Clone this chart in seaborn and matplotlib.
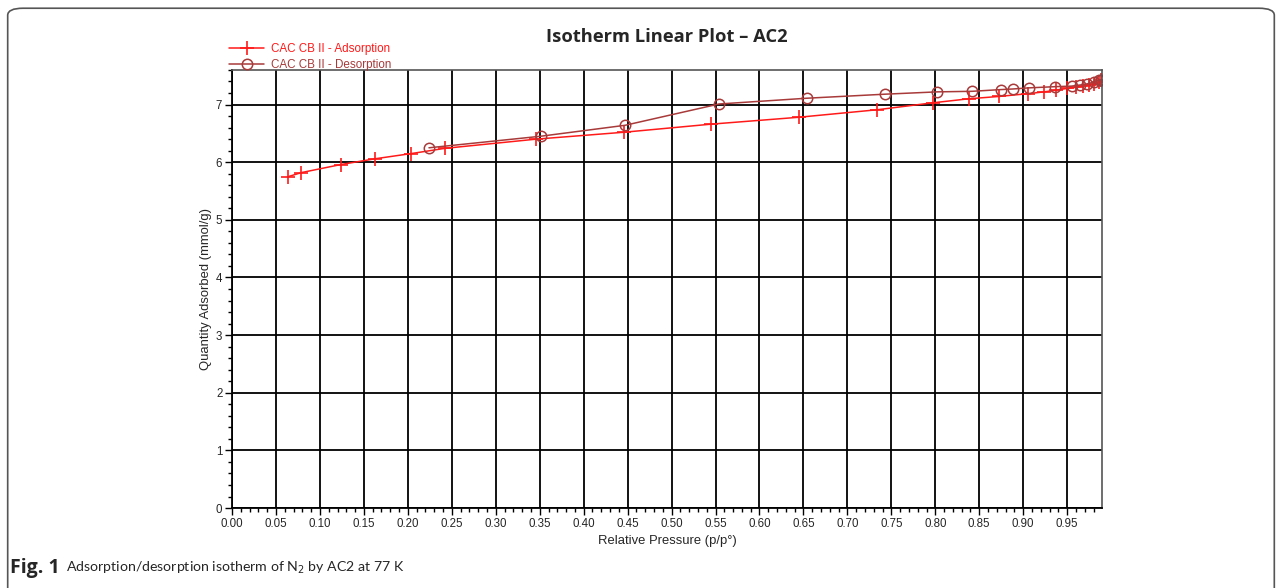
import numpy as np
import pandas as pd
import seaborn as sns
import matplotlib.pyplot as plt
from matplotlib.patches import FancyBboxPatch
from matplotlib.ticker import MultipleLocator

# adsorption branch
ads_p = [0.064, 0.079, 0.124, 0.163, 0.204, 0.242, 0.346, 0.446, 0.545, 0.645,
         0.734, 0.797, 0.838, 0.872, 0.906, 0.924, 0.937, 0.950, 0.960, 0.968,
         0.975, 0.981, 0.986, 0.989]
ads_q = [5.75, 5.82, 5.96, 6.06, 6.15, 6.24, 6.40, 6.52, 6.66, 6.78,
         6.91, 7.03, 7.10, 7.14, 7.19, 7.22, 7.25, 7.28, 7.30, 7.32,
         7.34, 7.36, 7.39, 7.42]

# desorption branch
des_p = [0.989, 0.986, 0.980, 0.973, 0.965, 0.955, 0.936, 0.907, 0.888, 0.875,
         0.842, 0.802, 0.743, 0.654, 0.554, 0.447, 0.351, 0.224]
des_q = [7.43, 7.42, 7.39, 7.36, 7.34, 7.32, 7.31, 7.29, 7.27, 7.26,
         7.23, 7.22, 7.18, 7.11, 7.01, 6.64, 6.45, 6.25]

x_ticks = np.round(np.arange(0, 0.951, 0.05), 2)
y_ticks = [0, 1, 2, 3, 4, 5, 6, 7]

ads_color = "#ff1a1a"
des_color = "#a83a3a"

sns.set_theme(style="white")
plt.rcParams["font.family"] = ["Liberation Sans", "DejaVu Sans"]

fig = plt.figure(figsize=(12.82, 5.88), dpi=100)
ax = fig.add_axes([0.181, 0.136, 0.6785, 0.745])

ads = pd.DataFrame({"p": ads_p, "q": ads_q})
des = pd.DataFrame({"p": des_p, "q": des_q})

sns.lineplot(data=ads, x="p", y="q", ax=ax, color=ads_color, lw=1.1,
             marker="+", markersize=10, markeredgewidth=1.2,
             markeredgecolor=ads_color, sort=False,
             estimator=None, label="CAC CB II - Adsorption")
sns.lineplot(data=des, x="p", y="q", ax=ax, color=des_color, lw=1.1,
             marker="o", markersize=7.5, markerfacecolor="none",
             markeredgecolor=des_color, markeredgewidth=1.1, sort=False,
             estimator=None, label="CAC CB II - Desorption")

ax.set_xlim(0, 0.9895)
ax.set_ylim(0, 7.6)
ax.set_xticks(x_ticks)
ax.set_xticklabels([f"{v:.2f}" for v in x_ticks])
ax.set_yticks(y_ticks)
ax.xaxis.set_minor_locator(MultipleLocator(0.01))
ax.yaxis.set_minor_locator(MultipleLocator(0.2))
ax.grid(True, which="major", color="black", lw=1.3)
ax.set_axisbelow(True)
ax.tick_params(which="major", direction="out", length=5, width=1,
               color="black", labelsize=8.3, pad=2, bottom=True, left=True)
ax.tick_params(which="minor", direction="out", length=3, width=1,
               color="black", bottom=True, left=True)
for side in ["left", "bottom"]:
    ax.spines[side].set_color("black")
    ax.spines[side].set_linewidth(1.3)
for side in ["top", "right"]:
    ax.spines[side].set_color("#555555")
    ax.spines[side].set_linewidth(1.2)

ax.set_xlabel("Relative Pressure (p/p°)", fontsize=9.4, labelpad=4)
ax.set_ylabel("Quantity Adsorbed (mmol/g)", fontsize=9.4, labelpad=3)

leg = ax.legend(loc="lower left", bbox_to_anchor=(-0.003, 0.998), frameon=False,
                fontsize=8.4, handlelength=3.0, handletextpad=0.6,
                labelspacing=0.35, borderpad=0, borderaxespad=0)
for txt, c in zip(leg.get_texts(), [ads_color, des_color]):
    txt.set_color(c)

fig.text(0.52, 0.937, "Isotherm Linear Plot – AC2", ha="center", va="center",
         fontsize=13.2, fontweight="bold", family=["Open Sans", "DejaVu Sans"])

# caption and frame of the figure box
fig.text(0.008, 0.034, "Fig. 1", ha="left", va="center", fontsize=14,
         fontweight="bold", family=["Open Sans", "DejaVu Sans"])
fig.text(0.0515, 0.034, "Adsorption/desorption isotherm of N$_2$ by AC2 at 77 K",
         ha="left", va="center", fontsize=10.2,
         family=["Lato", "DejaVu Sans"])
box = FancyBboxPatch((0.006, -0.05), 0.988, 1.036, transform=fig.transFigure,
                     boxstyle="round,pad=0,rounding_size=0.012",
                     fill=False, edgecolor="#555555", lw=1.2)
fig.patches.append(box)

fig.savefig("out.png", dpi=100)
